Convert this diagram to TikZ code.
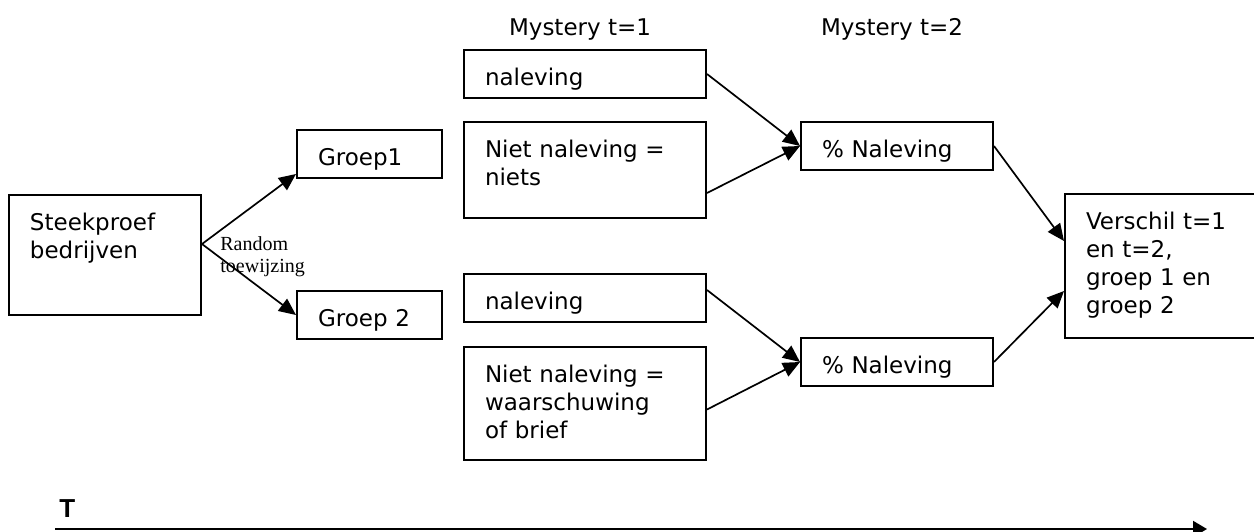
\documentclass[tikz,border=0pt]{standalone}
\usepackage{fontspec}
\setmainfont{DejaVu Sans}
\newfontfamily\timesfont{Liberation Serif}
\newfontfamily\arialfont{Liberation Sans}
\usetikzlibrary{arrows.meta,positioning}
\tikzset{
  box/.style={draw,line width=1pt,anchor=north west,inner xsep=10.5pt,
    inner ysep=0pt,text height=17.5pt,align=left},
  flow/.style={-{Triangle[length=8.5pt,width=7.5pt]},line width=0.85pt},
  boxtext/.style={font=\fontsize{11.5}{14}\selectfont},
  smalltext/.style={font=\timesfont\fontsize{10}{11}\selectfont,
    align=left,anchor=north west,inner sep=0pt}
}

\begin{document}
\begin{tikzpicture}[x=0.5pt,y=-0.5pt,boxtext]
\useasboundingbox (0,0) rectangle (1254,531);
\clip (0,0) rectangle (1254,531);
% column heads
\node[anchor=base] (m1) at (580,35) {Mystery t=1};
\node[anchor=base] (m2) at (892,35) {Mystery t=2};
% boxes
\node[box,text width=75pt,text depth=42.5pt] (st) at (8,194) {Steekproef\\bedrijven};
\node[box,text width=51.5pt,text depth=6.5pt] (g1) at (296,129) {Groep1};
\node[box,text width=51.5pt,text depth=6.5pt] (g2) at (296,290) {Groep 2};
\node[box,text width=100pt,text depth=6.5pt] (nal1) at (463,49) {naleving};
\node[box,text width=100pt,text depth=30.5pt] (niet1) at (463,121) {Niet naleving =\\niets};
\node[box,text width=100pt,text depth=6.5pt] (nal2) at (463,273) {naleving};
\node[box,text width=100pt,text depth=39pt] (niet2) at (463,346) {Niet naleving =\\waarschuwing\\of brief};
\node[box,text width=75pt,text depth=6.5pt] (pct1) at (800,121) {\% Naleving};
\node[box,text width=75pt,text depth=6.5pt] (pct2) at (800,337) {\% Naleving};
\node[box,text width=84pt,text depth=54.5pt] (vs) at (1064,193) {Verschil t=1\\en t=2,\\groep 1 en\\groep 2};
\node[smalltext] (rand) at (220,236) {Random\\toewijzing};
% arrows
\draw[flow] ([yshift=5.5pt]st.east) -- ([yshift=2.5pt]g1.south west);
\draw[flow] ([yshift=5.5pt]st.east) -- (g2.west);
\foreach \a/\s/\b in {nal1/0/pct1,niet1/-11.5/pct1,nal2/4/pct2,niet2/-3/pct2}
  \draw[flow] ([yshift=\s pt]\a.east) -- (\b.west);
\draw[flow] (pct1.east) -- ([yshift=12.5pt]vs.west);
\draw[flow] (pct2.east) -- ([yshift=-12.5pt]vs.west);
% time axis
\node[font=\arialfont\bfseries\fontsize{13}{15}\selectfont,anchor=base west,inner sep=0pt] (tl) at (59,517) {T};
\coordinate (t0) at (55,529);
\coordinate (t1) at (1207,529);
\draw[-{Triangle[length=7pt,width=8pt]},line width=1pt] (t0) -- (t1);
\end{tikzpicture}
\end{document}
